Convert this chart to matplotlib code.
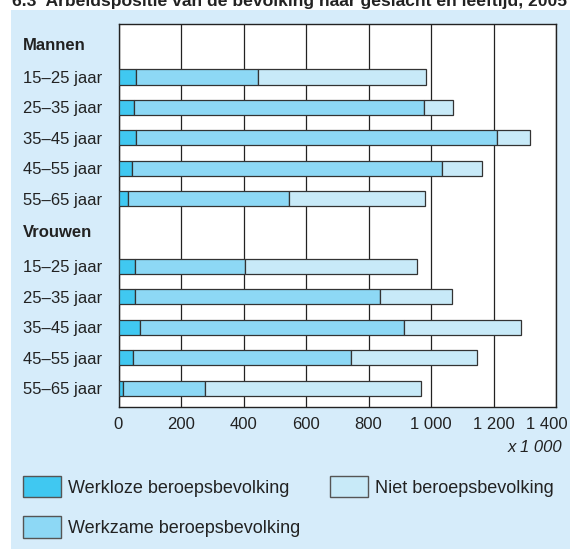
import matplotlib
matplotlib.use("Agg")
import matplotlib.pyplot as plt
from matplotlib.patches import Rectangle, Patch
from matplotlib.transforms import ScaledTranslation

plt.rcParams["font.family"] = ["Liberation Sans", "DejaVu Sans"]

age_groups = ["15–25 jaar", "25–35 jaar", "35–45 jaar", "45–55 jaar", "55–65 jaar"]

# x 1 000 persons
men_werkloos = [57, 49, 57, 43, 31]
men_werkzaam = [389, 930, 1153, 992, 514]
men_niet = [539, 91, 108, 129, 436]

women_werkloos = [54, 54, 68, 46, 15]
women_werkzaam = [351, 784, 846, 697, 261]
women_niet = [549, 230, 375, 404, 692]

x_ticks = [0, 200, 400, 600, 800, 1000, 1200, 1400]
x_tick_labels = ["0", "200", "400", "600", "800", "1 000", "1 200", "1 400"]

c_werkloos = "#40c8f1"
c_werkzaam = "#8dd8f5"
c_niet = "#c8eaf8"
c_bg = "#d6ecfa"
c_edge = "#333333"

W, H = 570, 549
fig = plt.figure(figsize=(W / 100, H / 100), dpi=100)
fig.patch.set_facecolor("white")
fig.patches.append(Rectangle((11 / W, 0), 1, (H - 9.5) / H,
                             transform=fig.transFigure, facecolor=c_bg,
                             edgecolor="none", zorder=-5))

fig.text(12 / W, (H - 6) / H,
         "6.3  Arbeidspositie van de bevolking naar geslacht en leeftijd, 2005",
         fontsize=12.6, fontweight="bold", va="baseline", ha="left", color="#222222")

ax = fig.add_axes([118.5 / W, (H - 407) / H, (556 - 118.5) / W, (407 - 24.3) / H])
ax.set_facecolor("white")

men_y = [0, 1, 2, 3, 4]
women_y = [6.23, 7.23, 8.23, 9.23, 10.23]
bar_h = 0.5

for ys, wl, wz, nb in [(men_y, men_werkloos, men_werkzaam, men_niet),
                       (women_y, women_werkloos, women_werkzaam, women_niet)]:
    left3 = [a + b for a, b in zip(wl, wz)]
    ax.barh(ys, wl, height=bar_h, color=c_werkloos, edgecolor=c_edge, linewidth=0.9, zorder=3)
    ax.barh(ys, wz, left=wl, height=bar_h, color=c_werkzaam, edgecolor=c_edge, linewidth=0.9, zorder=3)
    ax.barh(ys, nb, left=left3, height=bar_h, color=c_niet, edgecolor=c_edge, linewidth=0.9, zorder=3)

ax.set_xlim(0, 1400)
ax.set_ylim(10.85, -1.73)
ax.set_xticks(x_ticks)
ax.set_xticklabels(x_tick_labels)
ax.tick_params(axis="x", length=0, pad=7.5, labelsize=12, labelcolor="#222222")
ax.grid(axis="x", color="#222222", linewidth=0.9, zorder=1)
ax.set_axisbelow(True)

# last tick label sits a bit left so it stays inside the panel
last = ax.get_xticklabels()[-1]
last.set_transform(last.get_transform() + ScaledTranslation(-9 / 100, 0, fig.dpi_scale_trans))

y_pos = [-1.07] + men_y + [5.06] + women_y
y_labels = ["Mannen"] + age_groups + ["Vrouwen"] + age_groups
ax.set_yticks(y_pos)
ax.set_yticklabels(y_labels)
ax.tick_params(axis="y", length=0, pad=(118.5 - 23) * 0.72, labelsize=12, labelcolor="#222222")
for lab in ax.get_yticklabels():
    lab.set_horizontalalignment("left")
    if lab.get_text() in ("Mannen", "Vrouwen"):
        lab.set_fontweight("bold")

for s in ax.spines.values():
    s.set_color("#222222")
    s.set_linewidth(1.0)

fig.text(562 / W, (H - 447) / H, "x 1 000", fontsize=12, style="italic",
         ha="right", va="center", color="#222222")

handles = [Patch(facecolor=c_werkloos, edgecolor="#555555", linewidth=1.0),
           Patch(facecolor=c_werkzaam, edgecolor="#555555", linewidth=1.0),
           Patch(facecolor=c_niet, edgecolor="#555555", linewidth=1.0)]
labels = ["Werkloze beroepsbevolking", "Werkzame beroepsbevolking", "Niet beroepsbevolking"]
fig.legend(handles, labels, loc="upper left", bbox_to_anchor=(22.7 / W, (H - 476) / H),
           ncol=2, frameon=False, fontsize=13, handlelength=2.1, handleheight=1.45,
           handletextpad=0.4, labelspacing=1.05, columnspacing=1.67, borderpad=0,
           borderaxespad=0, labelcolor="#222222")

fig.savefig("out.png", dpi=100, facecolor=fig.get_facecolor())
